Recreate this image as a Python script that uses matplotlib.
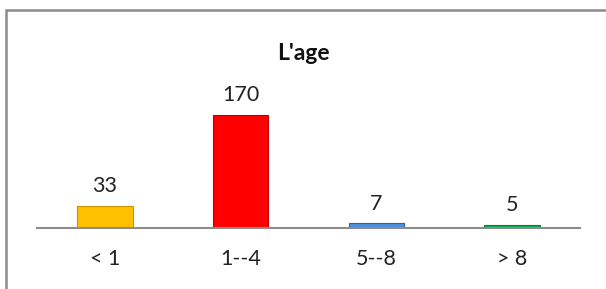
import matplotlib.pyplot as plt
from matplotlib.patches import Rectangle

categories = ['< 1', '1--4', '5--8', '> 8']
values = [33, 170, 7, 5]
colors = ['#FFC000', '#FF0000', '#4F8FE0', '#00B050']
edges = ['#C89400', '#C00000', '#2F5F9F', '#00803A']

plt.rcParams['font.family'] = ['Lato', 'DejaVu Sans']

fig = plt.figure(figsize=(6.06, 2.89), dpi=100)

# chart frame
fig.patches.append(Rectangle((6 / 606, -0.05), 1.2, (289 - 10) / 289 + 0.05,
                             transform=fig.transFigure, fill=False,
                             edgecolor='#8c8c8c', linewidth=1.8))

ax = fig.add_axes([37 / 606, 1 - 228 / 289, (580 - 37) / 606, 133 / 289])
x = range(len(categories))
ax.bar(x, values, width=0.41, color=colors, edgecolor=edges, linewidth=0.8)
ax.set_xlim(-0.5, 3.5)
ax.set_ylim(0, 200)

for i, v in enumerate(values):
    ax.annotate(str(v), (i, v), xytext=(0, 7), textcoords='offset points',
                ha='center', va='bottom', fontsize=15.5, color='#222222')

for s in ['top', 'right', 'left']:
    ax.spines[s].set_visible(False)
ax.spines['bottom'].set_color('#8c8c8c')
ax.spines['bottom'].set_linewidth(1.5)
ax.set_yticks([])
ax.set_xticks(list(x))
ax.set_xticklabels(categories, fontsize=15.5, color='#222222')
ax.tick_params(axis='x', length=0, pad=15)

fig.text(0.5, 1 - 53 / 289, "L'age", ha='center', va='center',
         fontsize=16.5, fontweight='bold', color='#111111')

fig.savefig('out.png', dpi=100)
